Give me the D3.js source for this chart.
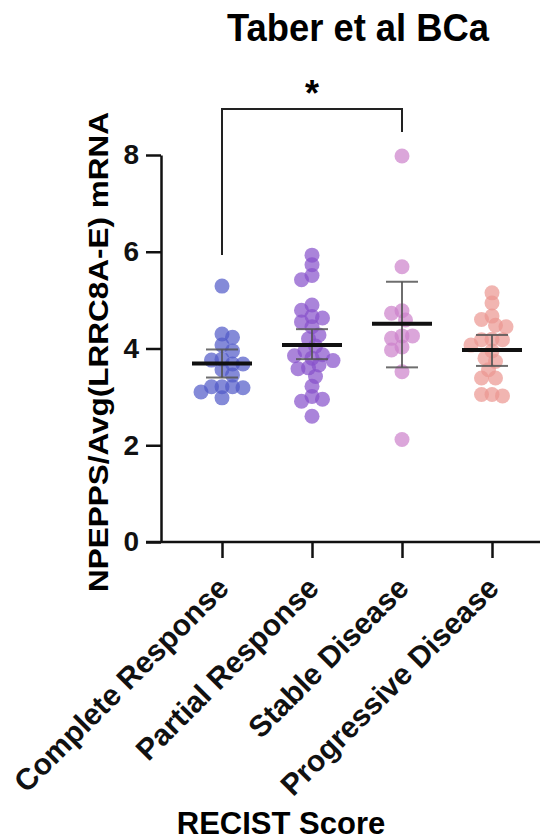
<!DOCTYPE html>
<html>
<head>
<meta charset="utf-8">
<script src="https://cdn.jsdelivr.net/npm/d3@7"></script>
<style>
  body { margin: 0; background: #fff; }
  text { font-family: "Liberation Sans", Arial, Helvetica, sans-serif; font-weight: bold; }
</style>
</head>
<body>
<svg id="chart" width="546" height="840"></svg>
<script>
// values
const categories = ["Complete Response", "Partial Response", "Stable Disease", "Progressive Disease"];

const completeResponse = [5.29, 4.30, 4.23, 4.07, 3.95, 3.78, 3.76, 3.68, 3.68, 3.56, 3.45, 3.21, 3.21, 3.19, 3.10, 2.98, 3.21];
const partialResponse = [5.93, 5.73, 5.51, 5.42, 4.90, 4.79, 4.66, 4.55, 4.63, 4.45, 4.28, 4.20, 4.05, 3.95, 3.87,
  3.85, 3.80, 3.75, 3.66, 3.60, 3.58, 3.42, 3.22, 3.01, 2.91, 2.95, 2.60];
const stableDisease = [7.98, 5.69, 4.78, 4.73, 4.59, 4.26, 4.21, 4.26, 4.03, 3.97, 3.52, 2.12];
const progressiveDisease = [5.15, 4.94, 4.67, 4.60, 4.48, 4.45, 4.19, 4.18, 4.18, 4.07, 3.95, 3.80, 3.73,
  3.56, 3.39, 3.39, 3.05, 3.05, 3.02];

const groupMeans = [3.69, 4.07, 4.51, 3.97];
const ciLower = [3.40, 3.78, 3.61, 3.64];
const ciUpper = [3.98, 4.40, 5.38, 4.28];

const yTicks = [0, 2, 4, 6, 8];
const pointColors = ["#5058c8", "#8650cb", "#cc80cb", "#eb9690"];

const groups = [completeResponse, partialResponse, stableDisease, progressiveDisease];

const svg = d3.select("#chart");

const y = d3.scaleLinear().domain([0, 8]).range([542, 155]);
const x = d3.scalePoint().domain(categories).range([222, 492]);

const axisX0 = 161, axisY0 = 542;

// title
svg.append("text")
  .attr("x", 358).attr("y", 41)
  .attr("text-anchor", "middle")
  .attr("font-size", 38)
  .attr("textLength", 262).attr("lengthAdjust", "spacingAndGlyphs")
  .text("Taber et al BCa");

// y axis
const yAxis = svg.append("g")
  .attr("transform", `translate(${axisX0},0)`)
  .call(d3.axisLeft(y).tickValues(yTicks).tickSize(15).tickSizeOuter(0).tickPadding(7));
yAxis.selectAll("path, line").attr("stroke", "#111").attr("stroke-width", 2.5);
yAxis.selectAll("text").attr("font-size", 28).attr("fill", "#111").attr("font-weight", "bold")
  .attr("font-family", "Liberation Sans, Arial, sans-serif");

// x axis
const xAxis = svg.append("g")
  .attr("transform", `translate(0,${axisY0})`)
  .call(d3.axisBottom(x).tickSize(16).tickSizeOuter(0).tickFormat(""));
xAxis.select(".domain").remove();
xAxis.selectAll("line").attr("stroke", "#111").attr("stroke-width", 2.5);
xAxis.append("line")
  .attr("x1", axisX0 - 15).attr("x2", 540)
  .attr("y1", 0).attr("y2", 0)
  .attr("stroke", "#111").attr("stroke-width", 2.5);
xAxis.selectAll(".tick").append("text")
  .attr("text-anchor", "end")
  .attr("transform", "translate(8,48) rotate(-45)")
  .attr("font-size", 30)
  .attr("fill", "#111")
  .text(d => d);

// axis titles
svg.append("text")
  .attr("transform", "translate(101,352) rotate(-90)")
  .attr("text-anchor", "middle")
  .attr("dominant-baseline", "middle")
  .attr("font-size", 28)
  .attr("textLength", 480).attr("lengthAdjust", "spacingAndGlyphs")
  .text("NPEPPS/Avg(LRRC8A-E) mRNA");

svg.append("text")
  .attr("x", 281).attr("y", 834)
  .attr("text-anchor", "middle")
  .attr("font-size", 31)
  .text("RECIST Score");

// simple swarm: place each point at the nearest free horizontal slot
function dodge(values, cx, minDist, step) {
  const placed = [];
  const order = values.map((v, i) => ({ v, i })).sort((a, b) => b.v - a.v);
  order.forEach((d, n) => {
    const py = y(d.v);
    let px = cx;
    for (let k = 0; k < 40; k++) {
      const sign = n % 2 === 0 ? 1 : -1;
      const tries = k === 0 ? [0] : [sign * k * step, -sign * k * step];
      const ok = tries.find(o => placed.every(p => Math.hypot(p.x - (cx + o), p.y - py) >= minDist));
      if (ok !== undefined) { px = cx + ok; break; }
    }
    placed.push({ x: px, y: py, v: d.v });
  });
  return placed;
}

groups.forEach((vals, gi) => {
  const pts = dodge(vals, x(categories[gi]), 9.5, 3.5);
  svg.append("g").selectAll("circle")
    .data(pts)
    .join("circle")
    .attr("cx", d => d.x)
    .attr("cy", d => d.y)
    .attr("r", 7.5)
    .attr("fill", pointColors[gi])
    .attr("fill-opacity", 0.7);
});

// 95% CI bars and means
const summary = categories.map((c, i) => ({ c, mean: groupMeans[i], lo: ciLower[i], hi: ciUpper[i] }));
const bars = svg.append("g").attr("stroke", "#555").attr("stroke-width", 2).attr("stroke-opacity", 0.85);
bars.selectAll(".v").data(summary).join("line")
  .attr("x1", d => x(d.c)).attr("x2", d => x(d.c))
  .attr("y1", d => y(d.lo)).attr("y2", d => y(d.hi));
bars.selectAll(".capHi").data(summary).join("line").attr("class", "capHi")
  .attr("x1", d => x(d.c) - 16).attr("x2", d => x(d.c) + 16)
  .attr("y1", d => y(d.hi)).attr("y2", d => y(d.hi));
bars.selectAll(".capLo").data(summary).join("line").attr("class", "capLo")
  .attr("x1", d => x(d.c) - 16).attr("x2", d => x(d.c) + 16)
  .attr("y1", d => y(d.lo)).attr("y2", d => y(d.lo));

svg.append("g").selectAll("line")
  .data(summary)
  .join("line")
  .attr("x1", d => x(d.c) - 30).attr("x2", d => x(d.c) + 30)
  .attr("y1", d => y(d.mean)).attr("y2", d => y(d.mean))
  .attr("stroke", "#111").attr("stroke-width", 4);

// significance bracket between Complete Response and Stable Disease
const bx1 = x(categories[0]), bx2 = x(categories[2]);
svg.append("path")
  .attr("d", `M${bx1},255 V109 H${bx2} V132`)
  .attr("fill", "none")
  .attr("stroke", "#222")
  .attr("stroke-width", 2);
svg.append("text")
  .attr("x", (bx1 + bx2) / 2).attr("y", 106)
  .attr("text-anchor", "middle")
  .attr("font-size", 36)
  .text("*");
</script>
</body>
</html>
